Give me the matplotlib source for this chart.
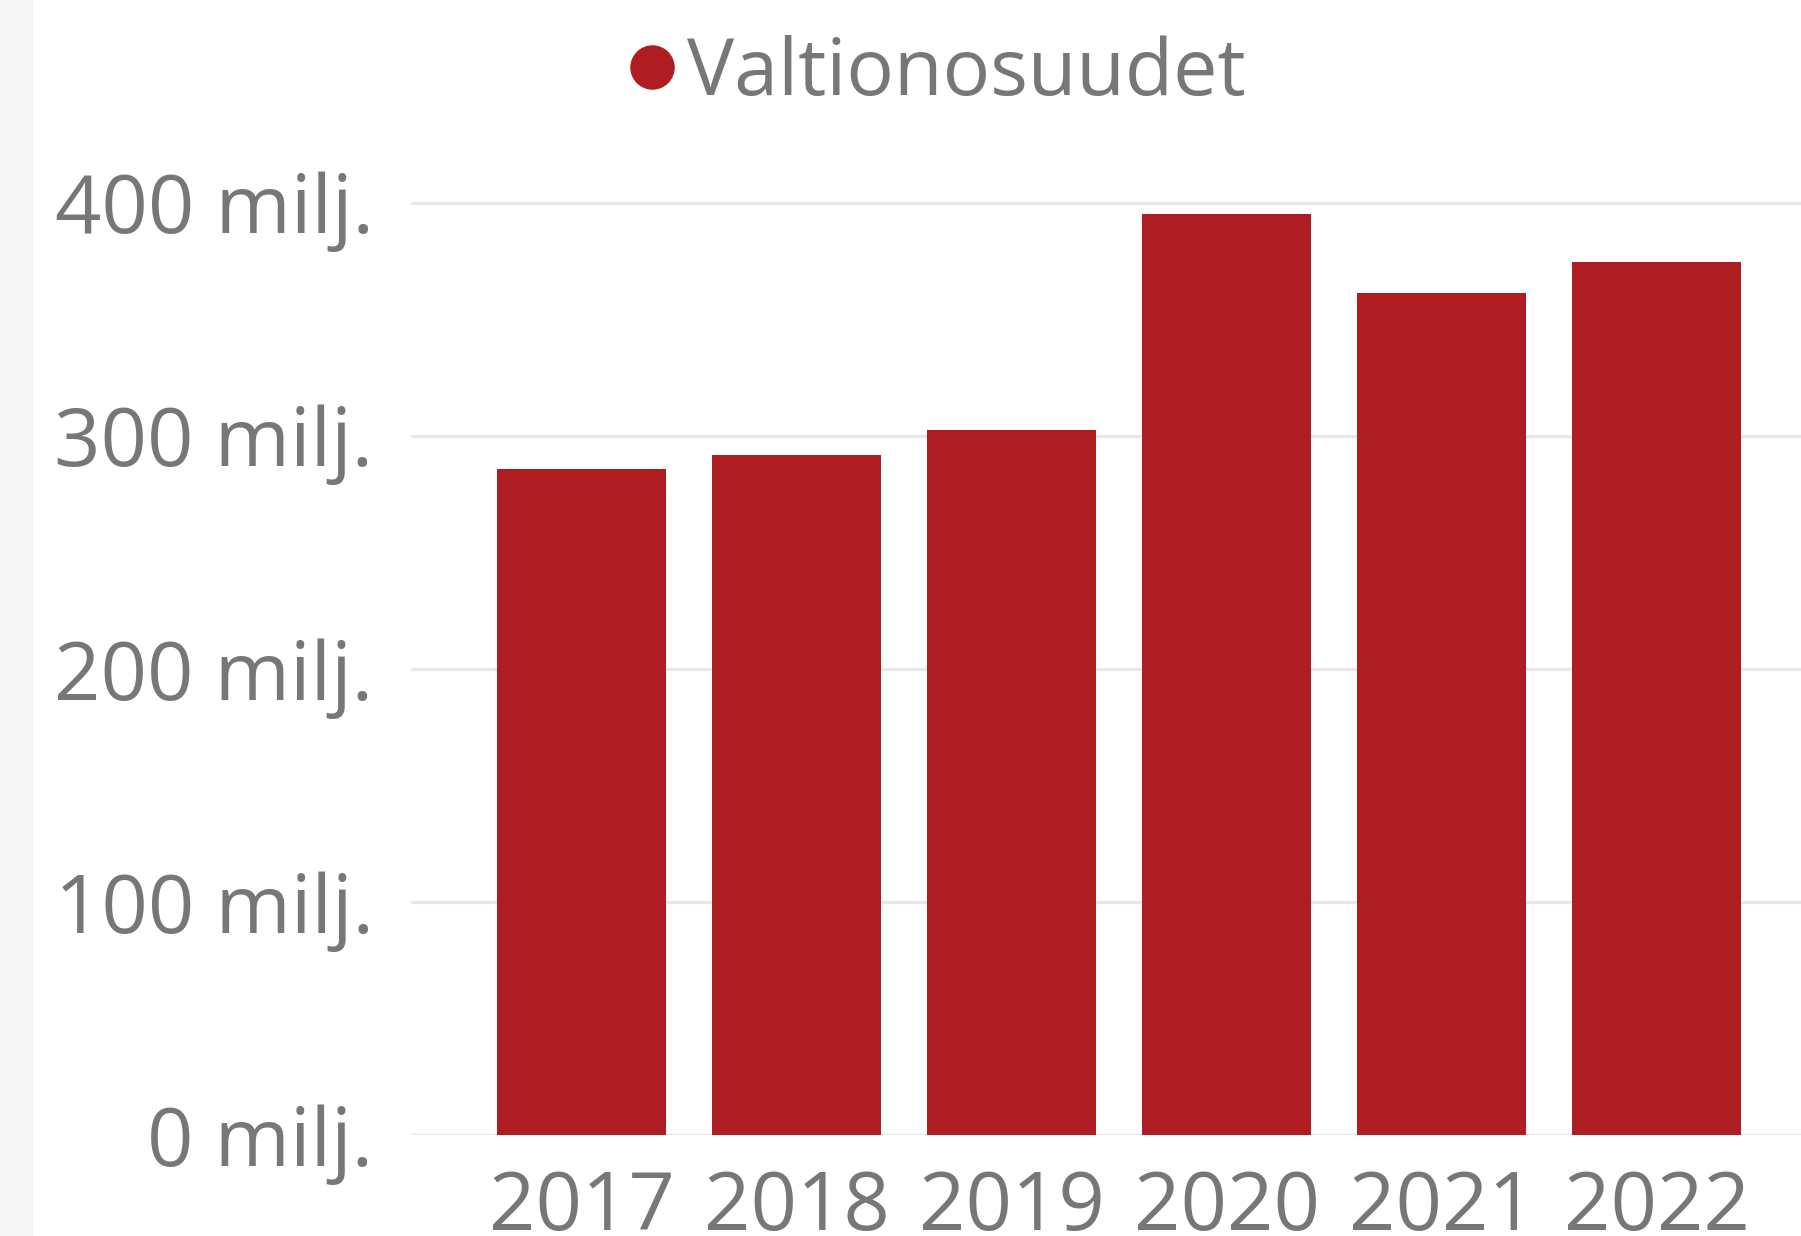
import matplotlib
matplotlib.use("Agg")
import matplotlib.pyplot as plt
from matplotlib.lines import Line2D
from matplotlib.patches import Rectangle

years = ["2017", "2018", "2019", "2020", "2021", "2022"]
valtionosuudet = [285.7, 291.6, 302.5, 395.1, 361.1, 374.4]
yticks = [0, 100, 200, 300, 400]
ylabels = ["0 milj.", "100 milj.", "200 milj.", "300 milj.", "400 milj."]

bar_color = "#ad1d22"
text_color = "#777777"
grid_color = "#e8e8e8"

plt.rcParams['font.family'] = ['Open Sans', 'DejaVu Sans']

fig = plt.figure(figsize=(18.01, 12.36), dpi=100)
fig.patch.set_facecolor("white")

# faint shadow strip on the left edge
fig.patches.append(Rectangle((0, 0), 34 / 1801, 1, transform=fig.transFigure,
                             facecolor="#f6f6f6", edgecolor="none", zorder=0))

ax = fig.add_axes([411 / 1801, 101 / 1236, 1 - 411 / 1801, (1135 - 156) / 1236])
x = list(range(len(years)))
ax.bar(x, valtionosuudet, width=0.786, color=bar_color, zorder=3)

ax.set_xlim(-0.795, 5.67)
ax.set_ylim(0, 420)
ax.set_yticks(yticks)
ax.set_yticklabels(ylabels)
ax.set_xticks(x)
ax.set_xticklabels(years)
ax.tick_params(axis="both", length=0, labelsize=58.5, colors=text_color)
ax.tick_params(axis="y", pad=27)
ax.tick_params(axis="x", pad=24)
for s in ax.spines.values():
    s.set_visible(False)
ax.yaxis.grid(True, color=grid_color, linewidth=2.4, zorder=0)
ax.set_axisbelow(True)

handle = Line2D([], [], linestyle="none", marker="o", markersize=31,
                markerfacecolor=bar_color, markeredgecolor=bar_color)
fig.legend([handle], ["Valtionosuudet"], loc="center",
           bbox_to_anchor=(937 / 1801, 1 - 74 / 1236), frameon=False,
           fontsize=57, labelcolor=text_color, handlelength=0.6,
           handletextpad=0.15, borderpad=0, borderaxespad=0)

fig.savefig("out.png", dpi=100)
